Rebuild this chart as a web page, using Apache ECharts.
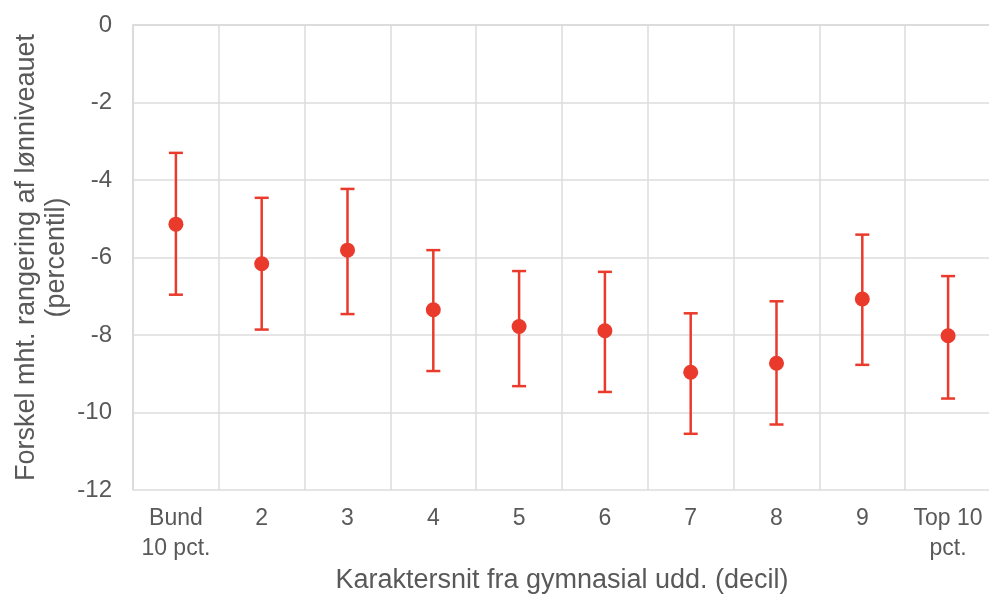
<!DOCTYPE html>
<html>
<head>
<meta charset="utf-8">
<script src="https://cdn.jsdelivr.net/npm/echarts@6/dist/echarts.min.js"></script>
<style>
  html, body { margin: 0; padding: 0; background: #fff; }
  #chart { width: 989px; height: 598px; }
</style>
</head>
<body>
<div id="chart"></div>
<script>
// data
const categories = ['Bund\n10 pct.', '2', '3', '4', '5', '6', '7', '8', '9', 'Top 10\npct.'];
const estimate = [-5.14, -6.16, -5.81, -7.35, -7.78, -7.89, -8.96, -8.73, -7.07, -8.02];
const upper = [-3.30, -4.46, -4.23, -5.81, -6.35, -6.37, -7.44, -7.13, -5.41, -6.48];
const lower = [-6.96, -7.86, -7.46, -8.93, -9.32, -9.47, -10.55, -10.31, -8.77, -9.64];

const red = '#e93a2c';
const grey = '#595959';
const font = 'Liberation Sans, Arial, sans-serif';

const chart = echarts.init(document.getElementById('chart'));

const errData = categories.map((c, i) => [i, lower[i], upper[i]]);

const option = {
    animation: false,
    textStyle: { fontFamily: font },
    grid: { left: 133, top: 25, width: 858, bottom: 108, containLabel: false, outerBoundsMode: 'none' },
    xAxis: {
        type: 'category',
        data: categories,
        boundaryGap: true,
        axisLine: { show: true, lineStyle: { color: '#d9d9d9', width: 1.5 } },
        axisTick: { show: false },
        splitLine: { show: true, lineStyle: { color: '#dcdcdc', width: 1.5 } },
        axisLabel: { color: grey, fontSize: 23, lineHeight: 30, margin: 14, interval: 0 },
        name: 'Karaktersnit fra gymnasial udd. (decil)',
        nameLocation: 'middle',
        nameGap: 77,
        nameMoveOverlap: false,
        nameTextStyle: { color: grey, fontSize: 27 }
    },
    yAxis: {
        type: 'value',
        min: -12,
        max: 0,
        interval: 2,
        axisLine: { show: true, lineStyle: { color: '#d9d9d9', width: 1.5 } },
        axisTick: { show: false },
        splitLine: { lineStyle: { color: '#dcdcdc', width: 1.5 } },
        axisLabel: { color: grey, fontSize: 24, margin: 21 },
        name: 'Forskel mht. rangering af lønniveauet\n(percentil)',
        nameLocation: 'middle',
        nameGap: 61,
        nameMoveOverlap: false,
        nameTextStyle: { color: grey, fontSize: 27, lineHeight: 30, align: 'center' }
    },
    series: [
        {
            type: 'custom',
            data: errData,
            encode: { x: 0, y: [1, 2] },
            z: 2,
            renderItem: function (params, api) {
                const x = api.value(0);
                const lo = api.coord([x, api.value(1)]);
                const hi = api.coord([x, api.value(2)]);
                const half = 7;
                const style = { stroke: red, lineWidth: 2.5 };
                return {
                    type: 'group',
                    children: [
                        { type: 'line', shape: { x1: lo[0], y1: lo[1], x2: hi[0], y2: hi[1] }, style: style },
                        { type: 'line', shape: { x1: lo[0] - half, y1: lo[1], x2: lo[0] + half, y2: lo[1] }, style: style },
                        { type: 'line', shape: { x1: hi[0] - half, y1: hi[1], x2: hi[0] + half, y2: hi[1] }, style: style }
                    ]
                };
            }
        },
        {
            type: 'scatter',
            data: estimate,
            symbol: 'circle',
            symbolSize: 15,
            z: 3,
            itemStyle: { color: red, opacity: 1 }
        }
    ]
};

chart.setOption(option);
</script>
</body>
</html>
